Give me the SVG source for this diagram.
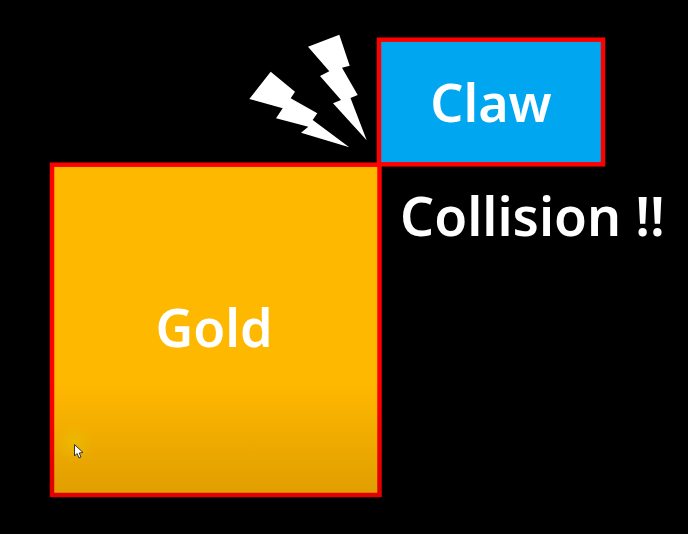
<svg xmlns="http://www.w3.org/2000/svg" width="688" height="534" viewBox="0 0 688 534">
<style>
.box{stroke:#f00;stroke-width:4.500}
.t{font-family:"Noto Sans","Liberation Sans",sans-serif;font-weight:600;fill:#fff}
.bolt{fill:#fff}
</style>
<defs>
<linearGradient id="g" x1="0" y1="0" x2="0" y2="1">
<stop offset="0" stop-color="#ffb800"/><stop offset="0.66" stop-color="#ffb800"/><stop offset="1" stop-color="#e09e00"/>
</linearGradient>
<linearGradient id="r" x1="0" y1="0" x2="0" y2="1">
<stop offset="0" stop-color="#f00"/><stop offset="0.66" stop-color="#f00"/><stop offset="1" stop-color="#e00000"/>
</linearGradient>
<radialGradient id="h"><stop offset="0" stop-color="#e8c000" stop-opacity=".7"/><stop offset="1" stop-color="#e8c000" stop-opacity="0"/></radialGradient>
</defs>
<rect width="688" height="534" fill="#000"/>
<g id="gold">
<rect class="box" x="52" y="164.700" width="327.500" height="330.300" fill="url(#g)" style="stroke:url(#r)"/>
<circle cx="74" cy="443" r="19" fill="url(#h)"/>
<path d="M74.500 444.500V456L77 453.500L79 458L81 457L79.200 453L83 452.500Z" fill="#fff" stroke="#333" stroke-width="1"/>
<text class="t" x="214" y="347" text-anchor="middle" font-size="52">Gold</text>
</g>
<g id="claw">
<rect class="box" x="379" y="39.700" width="224" height="124.600" fill="#00a7f0"/>
<text class="t" x="491" y="122" text-anchor="middle" font-size="52">Claw</text>
</g>
<g id="bolts">
<polygon class="bolt" points="308,46.700 339.300,34.700 349.700,65.700 342,67.700 357.700,95 350.500,98 366.700,140.300 333,103.300 341,100 320,76 329.300,71.300"/>
<polygon class="bolt" points="270.700,71.700 295,91.700 290.700,98.300 317.300,113.300 312.700,120 349.300,147.300 301,132.700 308.300,126.700 276,118.300 282.700,108.300 249.300,99"/>
</g>
<text id="collision" class="t" x="400" y="236" font-size="53.500">Collision !!</text>
<g id="connectors"/>
</svg>
